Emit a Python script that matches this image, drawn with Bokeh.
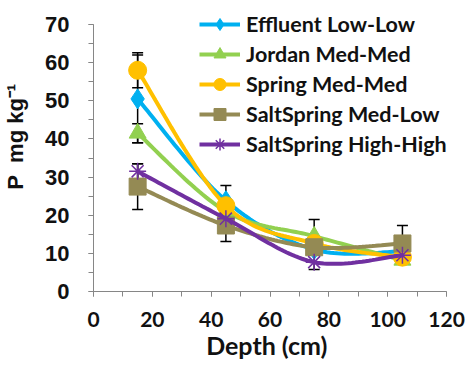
import numpy as np
from bokeh.plotting import figure
from bokeh.models import (ColumnDataSource, Whisker, TeeHead, Legend, LegendItem,
                          FixedTicker)
from bokeh.embed import file_html
from bokeh.resources import INLINE

# Soil phosphorus by depth for five sites
depth = [15, 45, 75, 105]

series_names = ["Effluent Low-Low", "Jordan Med-Med", "Spring Med-Med",
                "SaltSpring Med-Low", "SaltSpring High-High"]
effluent = [50.5, 23.8, 11.0, 10.5]
jordan = [41.5, 21.0, 14.5, 8.2]
spring = [58.0, 22.5, 12.6, 9.0]
salt_med_low = [27.5, 17.3, 11.6, 12.6]
salt_high_high = [31.5, 19.1, 7.7, 9.5]

effluent_err = [11.5, 4.0, 0.8, 0.8]
jordan_err = [2.5, 2.0, 4.4, 1.0]
spring_err = [4.6, 1.6, 1.0, 1.0]
salt_med_low_err = [6.0, 4.2, 1.5, 4.7]
salt_high_high_err = [2.0, 2.0, 1.9, 1.0]

values = [effluent, jordan, spring, salt_med_low, salt_high_high]
errors = [effluent_err, jordan_err, spring_err, salt_med_low_err, salt_high_high_err]
colors = ["#00B0F0", "#92D050", "#FFC000", "#948A54", "#7030A0"]
markers = ["diamond", "triangle", "circle", "square", "asterisk"]
marker_sizes = [20, 17, 18, 17, 17]

x_ticks = [0, 20, 40, 60, 80, 100, 120]
y_ticks = [0, 10, 20, 30, 40, 50, 60, 70]
x_axis_span = (0, 120)
y_axis_span = (0, 70)


def smooth_curve(xs, ys, n=30):
    """Bezier smoothing through the points (Excel-style smoothed line)."""
    pts = np.column_stack([xs, ys]).astype(float)
    out = [pts[0]]
    m = len(pts)
    for i in range(m - 1):
        p0 = pts[i - 1] if i > 0 else pts[i]
        p1 = pts[i]
        p2 = pts[i + 1]
        p3 = pts[i + 2] if i + 2 < m else pts[i + 1]
        c1 = p1 + (p2 - p0) / 6.0
        c2 = p2 - (p3 - p1) / 6.0
        t = np.linspace(0, 1, n)[1:, None]
        seg = ((1 - t) ** 3) * p1 + 3 * ((1 - t) ** 2) * t * c1 \
            + 3 * (1 - t) * t ** 2 * c2 + t ** 3 * p2
        out.extend(seg)
    out = np.array(out)
    return out[:, 0], out[:, 1]


# The frame runs to the top and right edges so the legend has room; the axes
# themselves are bounded to the 0-120 / 0-70 spans.
AXIS_W, AXIS_H = 354, 267          # pixel length of the drawn axes
LEFT, BOTTOM = 92, 74
W, H = 470, 365
x_end = x_axis_span[1] + (W - LEFT - AXIS_W) * (x_axis_span[1] - x_axis_span[0]) / AXIS_W
y_end = y_axis_span[1] + (H - BOTTOM - AXIS_H) * (y_axis_span[1] - y_axis_span[0]) / AXIS_H

p = figure(width=W, height=H, output_backend="svg", toolbar_location=None,
           x_range=(x_axis_span[0], x_end), y_range=(y_axis_span[0], y_end),
           min_border_left=LEFT, min_border_right=0, min_border_top=0,
           min_border_bottom=BOTTOM)
p.outline_line_color = None
p.xgrid.grid_line_color = None
p.ygrid.grid_line_color = None
p.background_fill_color = "white"
p.border_fill_color = "white"

items = []
for name, ys, err, col, mk, ms in zip(series_names, values, errors, colors,
                                      markers, marker_sizes):
    src = ColumnDataSource(dict(
        x=depth, y=ys,
        upper=[v + e for v, e in zip(ys, err)],
        lower=[v - e for v, e in zip(ys, err)]))
    w = Whisker(base="x", upper="upper", lower="lower", source=src,
                line_color="black", line_width=1.5,
                upper_head=TeeHead(size=11, line_color="black", line_width=1.5),
                lower_head=TeeHead(size=11, line_color="black", line_width=1.5))
    p.add_layout(w)
    sx, sy = smooth_curve(depth, ys)
    lr = p.line(sx, sy, line_color=col, line_width=4)
    if mk == "asterisk":
        sr = p.scatter("x", "y", source=src, marker=mk, size=ms,
                       line_color=col, line_width=1.5)
    else:
        sr = p.scatter("x", "y", source=src, marker=mk, size=ms,
                       fill_color=col, line_color=col)
    items.append(LegendItem(label=name, renderers=[lr, sr]))

legend = Legend(items=items, location=(106, 132), padding=0, margin=0,
                border_line_color=None, background_fill_alpha=0,
                glyph_width=41, glyph_height=30, spacing=0,
                label_height=30, label_standoff=6,
                label_text_font="Lato", label_text_font_style="bold",
                label_text_font_size="21.5px", label_text_color="#111111")
p.add_layout(legend)

# Axes
p.xaxis.ticker = FixedTicker(ticks=x_ticks, minor_ticks=list(range(0, 121, 10)))
p.yaxis.ticker = FixedTicker(ticks=y_ticks, minor_ticks=list(range(0, 71, 5)))
p.xaxis.bounds = x_axis_span
p.yaxis.bounds = y_axis_span
for ax in (p.xaxis, p.yaxis):
    ax.axis_line_color = "#868686"
    ax.axis_line_width = 1
    ax.major_tick_line_color = "#868686"
    ax.minor_tick_line_color = "#868686"
    ax.major_tick_in = 0
    ax.major_tick_out = 5
    ax.minor_tick_in = 0
    ax.minor_tick_out = 5
    ax.major_label_text_color = "#111111"
    ax.major_label_text_font_style = "bold"

NBSP = "\u00a0"

p.yaxis.major_label_text_font = "Liberation Sans"
p.yaxis.major_label_text_font_size = "22px"
p.yaxis.major_label_standoff = 19
# leading no-break spaces centre the title over the 0-70 span
p.yaxis.axis_label = NBSP * 3 + "P" + NBSP * 2 + "mg kg\u207b\u00b9"
p.yaxis.axis_label_text_font = "Liberation Sans"
p.yaxis.axis_label_text_font_style = "bold"
p.yaxis.axis_label_text_font_size = "22px"
p.yaxis.axis_label_text_color = "#111111"
p.yaxis.axis_label_standoff = 14

p.xaxis.major_label_text_font = "Lato"
p.xaxis.major_label_text_font_size = "21px"
p.xaxis.major_label_standoff = 15
# trailing no-break spaces centre the title under the 0-120 span
p.xaxis.axis_label = "Depth (cm)" + NBSP * 5
p.xaxis.axis_label_text_font = "Lato"
p.xaxis.axis_label_text_font_style = "bold"
p.xaxis.axis_label_text_font_size = "25px"
p.xaxis.axis_label_text_color = "#111111"
p.xaxis.axis_label_standoff = 0

open("out.html", "w").write(file_html(p, INLINE))
